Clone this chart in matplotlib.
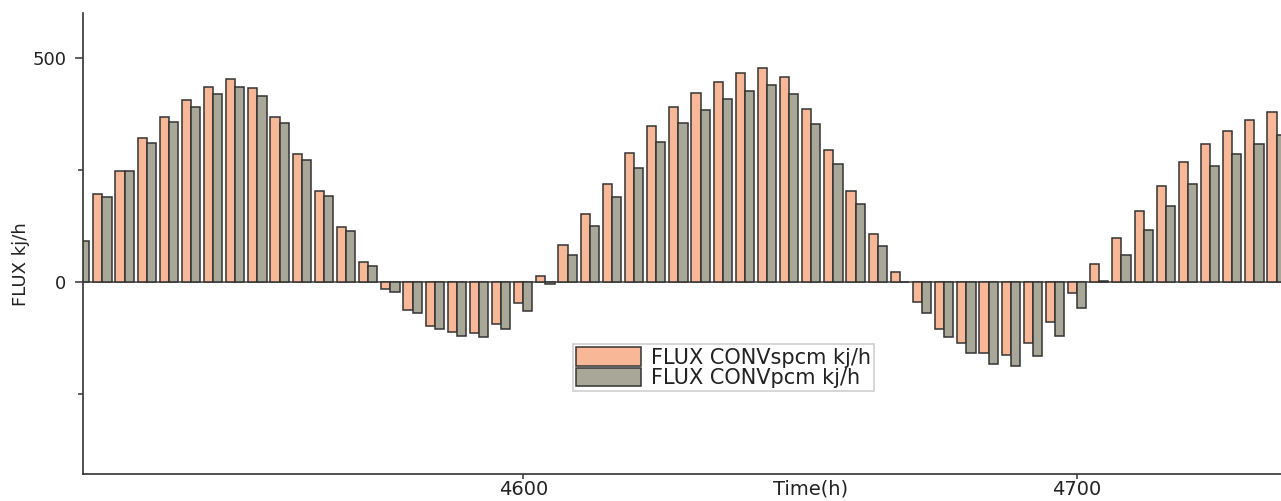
import matplotlib
matplotlib.use("Agg")
import matplotlib.pyplot as plt
from matplotlib.ticker import FixedLocator

# hourly time stamps of each bar pair
hours = list(range(4520, 4740, 4))

# convective flux, room without pcm (kj/h)
flux_spcm = [105, 197, 249, 322, 368, 407, 436, 454, 433, 368,
             285, 204, 123, 45, -16, -62, -97, -110, -112, -92,
             -47, 14, 83, 152, 220, 288, 348, 391, 423, 447,
             466, 478, 457, 386, 296, 204, 107, 22, -45, -103,
             -136, -158, -162, -136, -89, -23, 40, 99, 160, 215,
             268, 309, 338, 362, 380]

# convective flux, room with pcm (kj/h)
flux_pcm = [91, 190, 247, 310, 357, 391, 419, 436, 416, 354,
            273, 193, 114, 37, -22, -69, -103, -119, -122, -104,
            -63, -4, 61, 126, 190, 254, 313, 354, 385, 408,
            427, 439, 419, 352, 264, 175, 82, 1, -68, -123,
            -158, -181, -186, -164, -120, -57, 4, 60, 117, 169,
            219, 259, 286, 309, 328]

labels = ["FLUX CONVspcm kj/h", "FLUX CONVpcm kj/h"]
colors = ["#F8B898", "#A9A797"]
edge = "#333333"
w = 1.65

fig = plt.figure(figsize=(12.81, 5.01), dpi=100)
ax = fig.add_axes([83 / 1281, 27 / 501, 1198 / 1281, 461 / 501])

ax.axhline(0, color="#444444", lw=1.1, zorder=1)
ax.bar([h - w / 2 for h in hours], flux_spcm, width=w, color=colors[0],
       edgecolor=edge, linewidth=1.1, label=labels[0], zorder=2)
ax.bar([h + w / 2 for h in hours], flux_pcm, width=w, color=colors[1],
       edgecolor=edge, linewidth=1.1, label=labels[1], zorder=2)

ax.set_xlim(4520.5, 4736.8)
ax.set_ylim(-427.3, 600.3)

ax.set_xticks([4600, 4700])
ax.set_yticks([0, 500])
ax.yaxis.set_minor_locator(FixedLocator([-250, 250]))
ax.tick_params(axis="y", which="major", length=6, width=1.1, pad=6,
               labelsize=13, colors="#333333", labelcolor="#222222")
ax.tick_params(axis="y", which="minor", length=3.5, width=1.1, colors="#333333")
ax.tick_params(axis="x", which="major", length=3.5, width=1.1, pad=0.5,
               labelsize=14, colors="#333333", labelcolor="#222222")

for side in ["top", "right"]:
    ax.spines[side].set_visible(False)
for side in ["left", "bottom"]:
    ax.spines[side].set_color("#333333")
    ax.spines[side].set_linewidth(1.2)

ax.set_xlabel("Time(h)", fontsize=14, color="#222222")
ax.xaxis.set_label_coords(0.607, -0.012)
ax.set_ylabel("FLUX kj/h", fontsize=13, color="#222222")
ax.yaxis.set_label_coords(-0.044, 0.455)

leg = ax.legend(loc="upper left", bbox_to_anchor=(573 / 1281, 1 - 344 / 501),
                bbox_transform=fig.transFigure, borderaxespad=0,
                fontsize=15, frameon=True, fancybox=False,
                handlelength=3.1, handleheight=1.0, handletextpad=0.5,
                labelspacing=0.0, borderpad=0.15)
leg.get_frame().set_edgecolor("#c4c4c4")
leg.get_frame().set_linewidth(1.2)
for t in leg.get_texts():
    t.set_color("#222222")

fig.savefig("out.png", dpi=100)
